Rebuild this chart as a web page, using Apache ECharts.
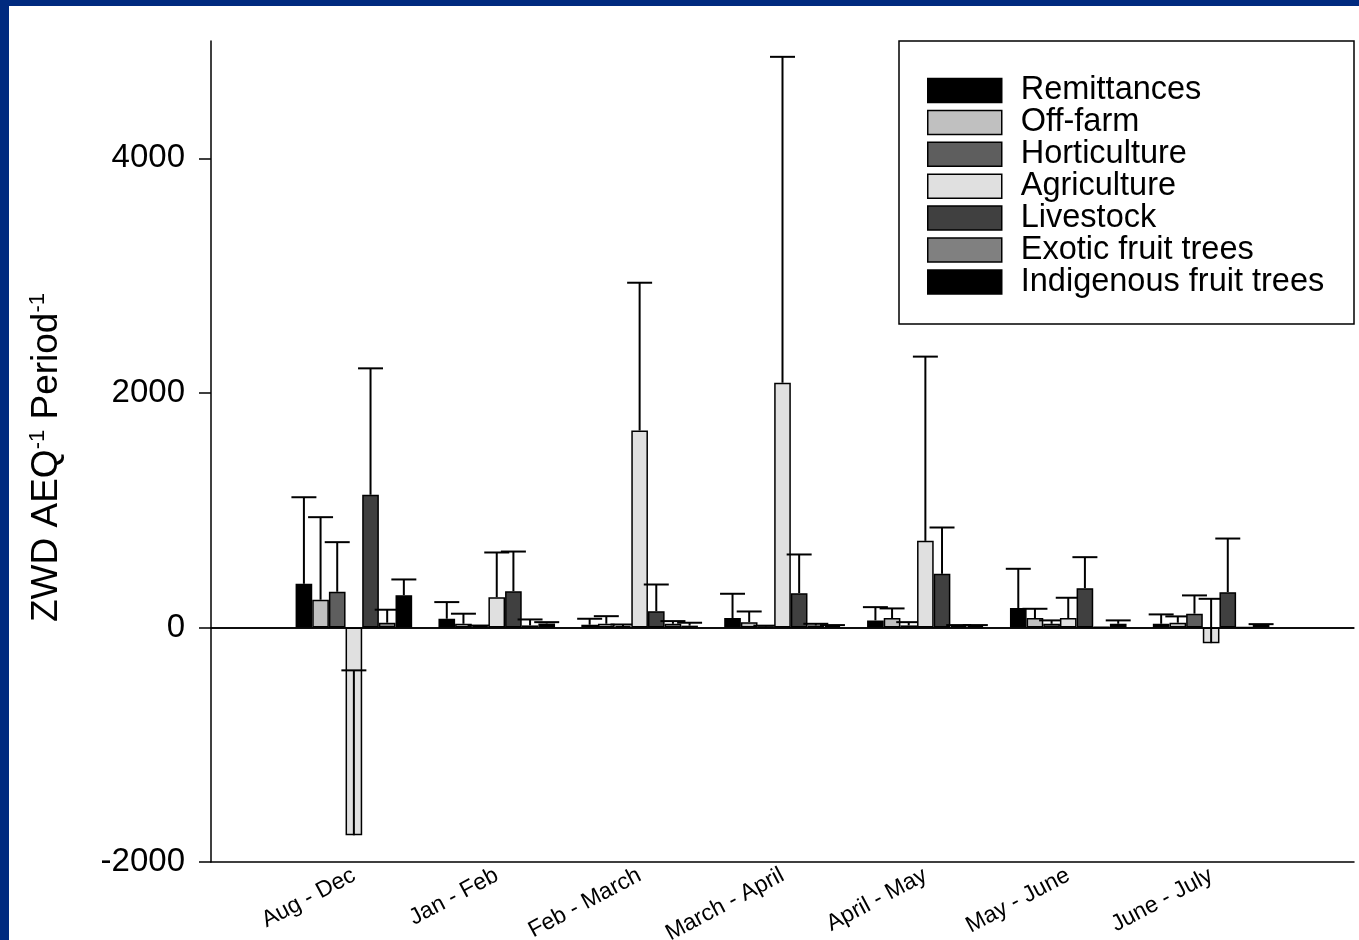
<!DOCTYPE html>
<html>
<head>
<meta charset="utf-8">
<script src="https://cdn.jsdelivr.net/npm/echarts@6/dist/echarts.min.js"></script>
<style>
  html, body { margin: 0; padding: 0; background: #ffffff; }
  #chart { width: 1359px; height: 940px; }
</style>
</head>
<body>
<div id="chart"></div>
<script>
// ---- data ----
const periods = ['Aug - Dec', 'Jan - Feb', 'Feb - March', 'March - April', 'April - May', 'May - June', 'June - July'];
const seriesNames = ['Remittances', 'Off-farm', 'Horticulture', 'Agriculture', 'Livestock', 'Exotic fruit trees', 'Indigenous fruit trees'];
const remittances     = [372, 74, 23, 80, 60, 165, 31];
const remittancesErr  = [738, 142, 51, 207, 113, 335, 80];
const offFarm         = [236, 31, 31, 45, 80, 80, 40];
const offFarmErr      = [704, 86, 65, 91, 82, 79, 54];
const horticulture    = [304, 11, 12, 8, 17, 31, 117];
const horticultureErr = [423, 5, 13, 7, 28, 29, 156];
const agriculture     = [-1772, 258, 1679, 2087, 738, 80, -134];
const agricultureErr  = [1406, 381, 1260, 2778, 1571, 173, 378];
const livestock       = [1131, 309, 139, 292, 457, 335, 301];
const livestockErr    = [1078, 338, 227, 330, 395, 264, 457];
const exotic          = [40, 17, 31, 17, 10, 3, 0];
const exoticErr       = [111, 51, 23, 14, 10, 0, 0];
const indigenous      = [275, 34, 15, 12, 10, 31, 23];
const indigenousErr   = [134, 11, 25, 8, 10, 29, 5];
const yTicks = [-2000, 0, 2000, 4000];

const values = [remittances, offFarm, horticulture, agriculture, livestock, exotic, indigenous];
const errors = [remittancesErr, offFarmErr, horticultureErr, agricultureErr, livestockErr, exoticErr, indigenousErr];
const colors = ['#000000', '#c0c0c0', '#5e5e5e', '#e0e0e0', '#404040', '#808080', '#000000'];

const FONT = 'Arial, "Liberation Sans", sans-serif';
const GAP = 0.184;           // bar category gap fraction
const NB = seriesNames.length;

// category axis padded with an empty slot at each end
const axisCats = [''].concat(periods, ['']);

const series = [];
seriesNames.forEach(function (name, k) {
  series.push({
    name: name,
    type: 'bar',
    xAxisIndex: 0,
    yAxisIndex: 0,
    data: [null].concat(values[k], [null]),
    barGap: '0%',
    barCategoryGap: (GAP * 100) + '%',
    itemStyle: { color: colors[k], borderColor: '#000', borderWidth: 1.5 },
    z: 2 + 2 * k,
    animation: false,
    markLine: k === 0 ? {
      symbol: 'none', silent: true, label: { show: false },
      lineStyle: { color: '#000', width: 1.5, type: 'solid' },
      data: [{ yAxis: 0 }]
    } : undefined
  });
  series.push({
    name: name + ' err',
    type: 'custom',
    xAxisIndex: 0,
    yAxisIndex: 0,
    z: 3 + 2 * k,
    animation: false,
    encode: { x: 0, y: 1 },
    data: values[k].map(function (v, i) { return [i + 1, v, errors[k][i]]; }),
    renderItem: function (params, api) {
      const x = api.value(0), v = api.value(1), e = api.value(2);
      if (!e) return null;
      const base = api.coord([x, v]);
      const top = api.coord([x, v + e]);
      const band = api.size([1, 0])[0];
      const bw = band * (1 - GAP) / NB;
      const cx = base[0] + (k - (NB - 1) / 2) * bw;
      const half = bw * 0.75;
      const st = { stroke: '#000', lineWidth: 2 };
      return {
        type: 'group',
        children: [
          { type: 'line', shape: { x1: cx, y1: base[1], x2: cx, y2: top[1] }, style: st },
          { type: 'line', shape: { x1: cx - half, y1: top[1], x2: cx + half, y2: top[1] }, style: st }
        ]
      };
    }
  });
});

const chart = echarts.init(document.getElementById('chart'), null, { renderer: 'canvas' });
chart.setOption({
  animation: false,
  backgroundColor: '#ffffff',
  grid: { left: 211, top: 41, right: 5, bottom: 78, containLabel: false, outerBoundsMode: 'none' },
  xAxis: [{
    type: 'category',
    data: axisCats,
    boundaryGap: false,
    position: 'bottom',
    axisLine: { onZero: false, lineStyle: { color: '#000', width: 1.5 } },
    axisTick: { show: false },
    axisLabel: {
      interval: 0, rotate: 28, margin: 12,
      color: '#000', fontFamily: FONT, fontSize: 23
    },
    splitLine: { show: false }
  }, {
    type: 'value',
    position: 'top',
    min: 0, max: 1,
    axisLine: { show: true, lineStyle: { color: '#000', width: 1.5 } },
    axisTick: { show: false },
    axisLabel: { show: false },
    splitLine: { show: false }
  }],
  yAxis: {
    type: 'value',
    min: -2000, max: 5000, interval: 2000,
    axisLine: { show: true, lineStyle: { color: '#000', width: 1.5 } },
    axisTick: { show: true, length: 12, customValues: yTicks, lineStyle: { color: '#000', width: 1.5 } },
    axisLabel: {
      customValues: yTicks, margin: 26, color: '#000', fontFamily: FONT, fontSize: 33,
      formatter: function (v) { return String(v); }
    },
    splitLine: { show: false },
    name: '{a|ZWD AEQ}{s|-1}{a| Period}{s|-1}',
    nameLocation: 'middle',
    nameRotate: 90,
    nameGap: 144,
    nameTextStyle: {
      padding: [0, 12, 0, 0],
      rich: {
        a: { fontFamily: FONT, fontSize: 37, color: '#000', lineHeight: 40 },
        s: { fontFamily: FONT, fontSize: 22, color: '#000', verticalAlign: 'top', lineHeight: 40 }
      }
    }
  },
  legend: {
    data: seriesNames,
    orient: 'vertical',
    left: 927, top: 74,
    padding: 0,
    itemWidth: 74, itemHeight: 24, itemGap: -1.1,
    icon: 'rect',
    itemStyle: { borderColor: '#000', borderWidth: 1.5 },
    textStyle: { fontFamily: FONT, fontSize: 32.5, color: '#000', padding: [0, 0, 0, 14] },
    selectedMode: false
  },
  graphic: [
    { type: 'rect', shape: { x: 899, y: 41, width: 455, height: 283 }, style: { fill: '#fff', stroke: '#000', lineWidth: 1.5 }, z: 0, zlevel: 0 },
    { type: 'rect', shape: { x: 0, y: 0, width: 1359, height: 6 }, style: { fill: '#002a7f' }, silent: true },
    { type: 'rect', shape: { x: 0, y: 0, width: 9, height: 940 }, style: { fill: '#002a7f' }, silent: true }
  ],
  series: series
});
</script>
</body>
</html>
